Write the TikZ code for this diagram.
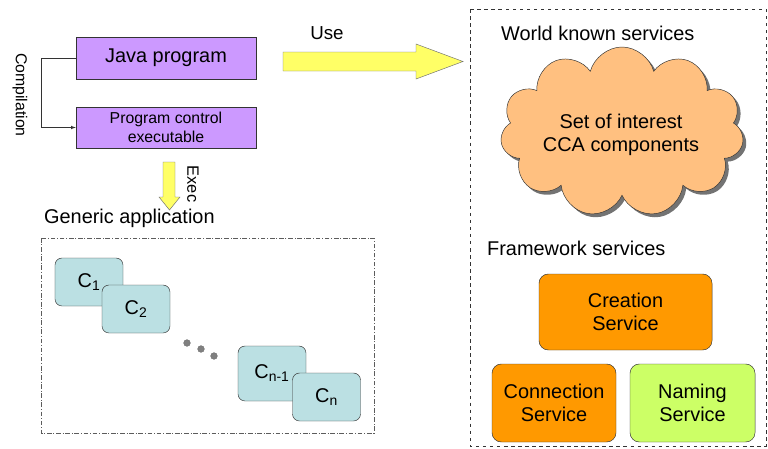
\documentclass[tikz,border=0pt]{standalone}
\usepackage{fontspec}
\setmainfont{Liberation Sans}
\usetikzlibrary{shapes.symbols,shadows}
\definecolor{CCPurple}{HTML}{CC99FF}
\definecolor{CCYellow}{HTML}{FFFF66}
\definecolor{CCOrange}{HTML}{FF9900}
\definecolor{CCLime}{HTML}{CCFF66}
\definecolor{CCTeal}{HTML}{BBE0E3}
\definecolor{CCPeach}{HTML}{FFC080}
\definecolor{CCLine}{HTML}{333333}
\tikzset{
  progbox/.style={draw=CCLine,fill=CCPurple,minimum width=5.4cm,align=center},
  compbox/.style={draw=CCLine,fill=CCTeal,rounded corners=6pt,minimum width=2.04cm,font=\fontsize{17}{19}\selectfont},
  servbox/.style={draw=CCLine,rounded corners=8pt,align=center,minimum height=2.34cm,font=\fontsize{17}{19}\selectfont},
  fatarrow/.style={draw=CCLine!70,fill=CCYellow,line width=.4pt},
  title/.style={anchor=west,font=\fontsize{17}{20}\selectfont},
}

\begin{document}
\begin{tikzpicture}[x=0.03cm,y=-0.03cm]
\path[use as bounding box] (0,0) rectangle (768,448);
% left: program and compilation
\node[progbox,minimum height=1.26cm,font=\fontsize{17}{20}\selectfont] (java) at (166,58) {Java program};
\node[progbox,minimum height=1.23cm,font=\fontsize{13.5}{16}\selectfont] (prog) at (166,127.5) {Program control\\executable};
\draw[CCLine,-latex] (java.west) -- ++(-35,0) |- (prog.west);
\node[rotate=-90,font=\fontsize{13.5}{16}\selectfont] (complbl) at (20,95) {Compilation};
% exec arrow
\draw[fatarrow] (163,162) -- (163,197) -- (159,197) -- (169.5,210) -- (180,197) -- (175,197) -- (175,162) -- cycle;
\node[rotate=-90,font=\fontsize{14}{16}\selectfont] (execlbl) at (193,184) {Exec};
% generic application
\node[title] (genlbl) at (40,218) {Generic application};
\draw[CCLine!80,dash pattern=on 4pt off 1.5pt on .8pt off 1.5pt] (41,238) rectangle (374,433);
\node[compbox,minimum height=1.44cm] (c1) at (89,282) {C\textsubscript{1}};
\node[compbox,minimum height=1.44cm] (c2) at (136,309) {C\textsubscript{2}};
\foreach \px/\py in {187/343,201/349,214/356}
  \filldraw[fill=gray,draw=CCLine!70] (\px,\py) circle (0.1cm);
\node[compbox,minimum height=1.65cm] (cn1) at (272,373.5) {C\textsubscript{n-1}};
\node[compbox,minimum height=1.44cm] (cn) at (326.5,397) {C\textsubscript{n}};
% use arrow
\coordinate (usefrom) at (283,61.5);
\coordinate (useto) at (463,61.5);
\draw[fatarrow] (usefrom) ++(0,-9.5) -- ++(133,0) -- ++(0,-8) -- (useto) -- ++(-47,17.5) -- ++(0,-8) -- ++(-133,0) -- cycle;
\node[font=\fontsize{16}{18}\selectfont] (uselbl) at (327,33) {Use};
% right: services
\draw[CCLine,dashed] (470,9) rectangle (766,446);
\node[title] (worldlbl) at (497,33) {World known services};
\node[cloud,cloud puffs=11,aspect=1.4,inner sep=0pt,draw=CCLine,fill=CCPeach,minimum width=7.3cm,minimum height=5.1cm,
  drop shadow={shadow xshift=.1cm,shadow yshift=-.1cm,fill=black!55,opacity=1}] (cca) at (622,132) {};
\node[align=center,font=\fontsize{17}{20}\selectfont] (ccalbl) at (621,135) {Set of interest\\CCA components};
\node[title] (framelbl) at (483,248) {Framework services};
\node[servbox,fill=CCOrange,minimum width=5.19cm,minimum height=2.28cm] (creation) at (625.5,312) {Creation\\Service};
\node[servbox,fill=CCOrange,minimum width=3.72cm] (connection) at (554,403) {Connection\\Service};
\node[servbox,fill=CCLime,minimum width=3.75cm] (naming) at (692.5,403) {Naming\\Service};
\end{tikzpicture}
\end{document}
